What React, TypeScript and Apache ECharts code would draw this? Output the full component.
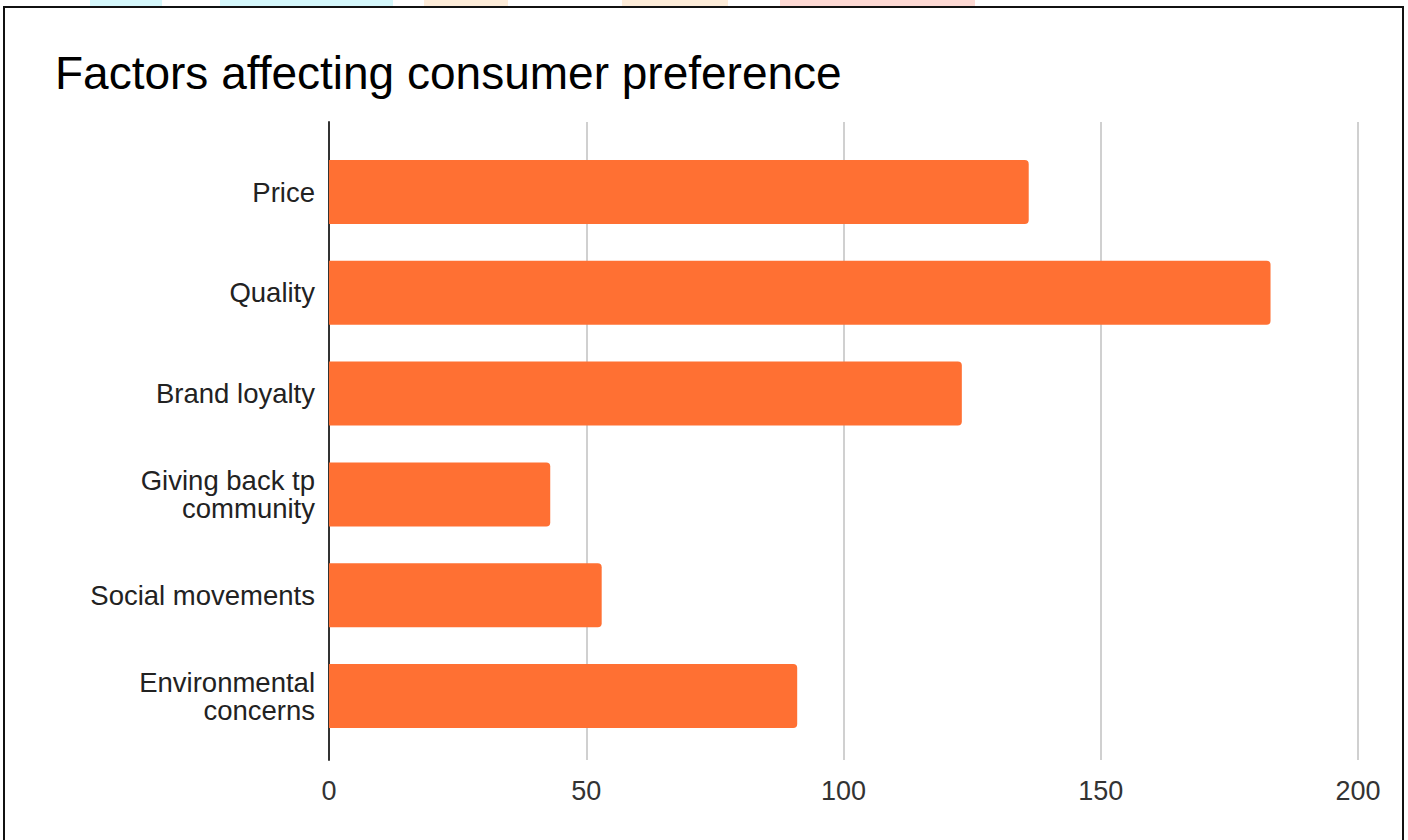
import React, { useEffect, useRef } from "react";
import * as echarts from "echarts";

const categories = [
  "Price",
  "Quality",
  "Brand loyalty",
  "Giving back tp\ncommunity",
  "Social movements",
  "Environmental\nconcerns",
];
const values = [136, 183, 123, 43, 53, 91];
const xTicks = [0, 50, 100, 150, 200];
const titleText = "Factors affecting consumer preference";

export default function App() {
  const ref = useRef<HTMLDivElement>(null);
  useEffect(() => {
    if (!ref.current) return;
    const chart = echarts.init(ref.current, null, { renderer: "svg" });
    const font = "'Liberation Sans', Arial, sans-serif";
    chart.setOption({
      animation: false,
      backgroundColor: "#ffffff",
      title: {
        text: titleText,
        left: 50,
        top: 45,
        textStyle: { fontFamily: font, fontSize: 46, fontWeight: "normal", color: "#000" },
      },
      grid: [
        { left: 329, right: 50, top: 122, bottom: 80 },
        { left: 329, right: 50, top: 141.6, height: 604.8 },
      ],
      xAxis: [
        {
          gridIndex: 0,
          type: "value",
          min: xTicks[0],
          max: xTicks[xTicks.length - 1],
          interval: 50,
          axisLine: { show: false },
          axisTick: { show: false },
          splitLine: { show: true, lineStyle: { color: "#d0d0d0", width: 2 } },
          axisLabel: { fontFamily: font, fontSize: 27, color: "#333", margin: 17 },
        },
        {
          gridIndex: 1,
          type: "value",
          min: xTicks[0],
          max: xTicks[xTicks.length - 1],
          show: false,
        },
      ],
      yAxis: [
        {
          gridIndex: 0,
          type: "value",
          axisLine: { show: true, lineStyle: { color: "#333", width: 2 } },
          axisTick: { show: false },
          axisLabel: { show: false },
          splitLine: { show: false },
        },
        {
          gridIndex: 1,
          type: "category",
          data: categories,
          inverse: true,
          axisLine: { show: false },
          axisTick: { show: false },
          axisLabel: {
            fontFamily: font,
            fontSize: 27.5,
            lineHeight: 28,
            color: "#222",
            margin: 14,
            align: "right",
          },
        },
      ],
      series: [
        {
          type: "bar",
          xAxisIndex: 1,
          yAxisIndex: 1,
          data: values,
          barWidth: 64,
          itemStyle: { color: "#ff7033", borderRadius: [0, 4, 4, 0] },
        },
      ],
      graphic: [
        { type: "rect", shape: { x: 90, y: 0, width: 72, height: 6 }, style: { fill: "#d4f7fb" } },
        { type: "rect", shape: { x: 220, y: 0, width: 173, height: 6 }, style: { fill: "#d4f7fb" } },
        { type: "rect", shape: { x: 424, y: 0, width: 84, height: 6 }, style: { fill: "#fdecd9" } },
        { type: "rect", shape: { x: 622, y: 0, width: 106, height: 6 }, style: { fill: "#fdecd9" } },
        { type: "rect", shape: { x: 780, y: 0, width: 195, height: 6 }, style: { fill: "#fdd9d3" } },
        {
          type: "polyline",
          shape: { points: [[4, 845], [4, 7], [1403, 7], [1403, 845]] },
          style: { stroke: "#111", lineWidth: 2, fill: "none" },
        },
      ],
    });
    return () => chart.dispose();
  }, []);
  return (
    <div
      ref={ref}
      style={{ position: "absolute", left: 0, top: 0, width: 1408, height: 840 }}
    />
  );
}
